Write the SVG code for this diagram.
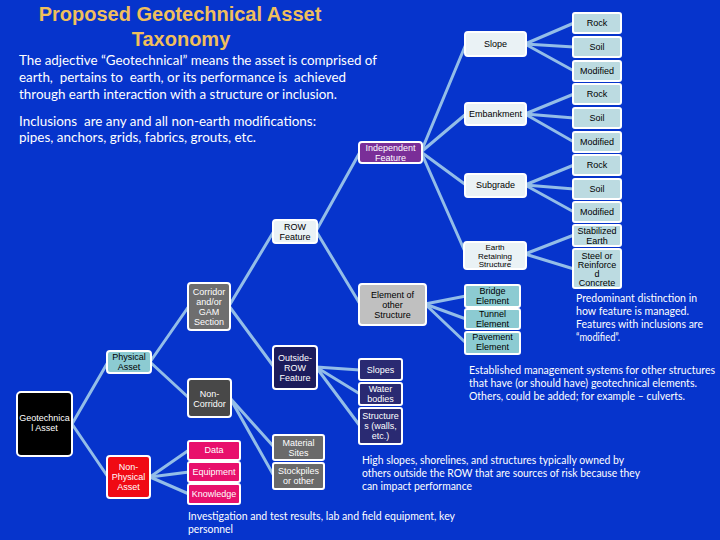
<svg xmlns="http://www.w3.org/2000/svg" width="720" height="540" viewBox="0 0 720 540">
<style>
.bg{fill:#0634cc}
.n rect{stroke:#ffffff;stroke-width:2}
.n text{font-family:"Liberation Sans",Arial,sans-serif;font-size:9px;text-anchor:middle}
.lt rect{fill:#bcdbe1}
.wh rect{fill:#eaf2f5}
.tl rect{fill:#8ccbd2}
.dk text,.pk text,.rd text,.pu text{fill:#ffffff}
.c line{stroke:#93bde8;stroke-width:3;stroke-linecap:round}
.t{font-family:"Lato","Open Sans",sans-serif;font-size:13px;fill:#ffffff}
.s{font-family:"Lato","Open Sans",sans-serif;font-size:10.5px;fill:#ffffff}
.title{font-family:"Liberation Sans",Arial,sans-serif;font-size:20px;font-weight:bold;fill:#f0bf5c;text-anchor:middle}
</style>
<rect class="bg" x="0" y="0" width="720" height="540"/>
<text class="title" x="180" y="21">Proposed Geotechnical Asset</text>
<text class="title" x="181" y="46">Taxonomy</text>
<text class="t" x="19" y="65" textLength="358" lengthAdjust="spacingAndGlyphs">The adjective “Geotechnical” means the asset is comprised of</text>
<text class="t" x="19" y="82" textLength="327" lengthAdjust="spacingAndGlyphs" xml:space="preserve">earth,  pertains to  earth, or its performance is  achieved</text>
<text class="t" x="19" y="99" textLength="318" lengthAdjust="spacingAndGlyphs">through earth interaction with a structure or inclusion.</text>
<text class="t" x="19" y="126" textLength="297" lengthAdjust="spacingAndGlyphs" xml:space="preserve">Inclusions  are any and all non-earth modifications:</text>
<text class="t" x="19" y="142" textLength="237" lengthAdjust="spacingAndGlyphs">pipes, anchors, grids, fabrics, grouts, etc.</text>
<g class="c" id="connectors">
<line x1="72" y1="424" x2="108" y2="362"/>
<line x1="72" y1="424" x2="108" y2="477"/>
<line x1="150" y1="362" x2="189" y2="306"/>
<line x1="150" y1="362" x2="189" y2="398"/>
<line x1="229" y1="306" x2="274" y2="231"/>
<line x1="229" y1="306" x2="274" y2="367"/>
<line x1="230" y1="398" x2="274" y2="447"/>
<line x1="230" y1="398" x2="274" y2="476"/>
<line x1="150" y1="477" x2="189" y2="450"/>
<line x1="150" y1="477" x2="189" y2="472"/>
<line x1="150" y1="477" x2="189" y2="494"/>
<line x1="316" y1="231" x2="360" y2="152"/>
<line x1="316" y1="231" x2="360" y2="304"/>
<line x1="421" y1="152" x2="466" y2="44"/>
<line x1="421" y1="152" x2="466" y2="114"/>
<line x1="421" y1="152" x2="466" y2="185"/>
<line x1="421" y1="152" x2="466" y2="254"/>
<line x1="525" y1="44" x2="574" y2="23"/>
<line x1="525" y1="44" x2="574" y2="47"/>
<line x1="525" y1="44" x2="574" y2="71"/>
<line x1="525" y1="114" x2="574" y2="94"/>
<line x1="525" y1="114" x2="574" y2="118"/>
<line x1="525" y1="114" x2="574" y2="142"/>
<line x1="525" y1="185" x2="574" y2="165"/>
<line x1="525" y1="185" x2="574" y2="189"/>
<line x1="525" y1="185" x2="574" y2="212"/>
<line x1="525" y1="254" x2="574" y2="235"/>
<line x1="525" y1="254" x2="574" y2="269"/>
<line x1="425" y1="304" x2="466" y2="296"/>
<line x1="425" y1="304" x2="466" y2="319"/>
<line x1="425" y1="304" x2="466" y2="343"/>
<line x1="316" y1="367" x2="360" y2="370"/>
<line x1="316" y1="367" x2="360" y2="394"/>
<line x1="316" y1="367" x2="360" y2="426"/>
</g>
<g class="n dk" id="geotechnical-asset"><rect x="17" y="392" width="55" height="64" rx="4" fill="#000000"/><text x="44.5" y="421">Geotechnica</text><text x="44.5" y="431">l Asset</text></g>
<g class="n tl" id="physical-asset"><rect x="107" y="351" width="44" height="22" rx="3"/><text x="129" y="360">Physical</text><text x="129" y="370">Asset</text></g>
<g class="n rd" id="non-physical-asset"><rect x="107" y="456" width="43" height="42" rx="3" fill="#f00a14"/><text x="128.5" y="470">Non-</text><text x="128.5" y="480">Physical</text><text x="128.5" y="490">Asset</text></g>
<g class="n dk" id="corridor"><rect x="188" y="283" width="42" height="47" rx="3" fill="#6e6e6e"/><text x="209" y="295">Corridor</text><text x="209" y="305">and/or</text><text x="209" y="315">GAM</text><text x="209" y="325">Section</text></g>
<g class="n dk" id="non-corridor"><rect x="188" y="379" width="43" height="38" rx="3" fill="#484848"/><text x="209.5" y="397">Non-</text><text x="209.5" y="407">Corridor</text></g>
<g class="n pk" id="data"><rect x="188" y="441" width="52" height="19" rx="2" fill="#e8106c"/><text x="214" y="453">Data</text></g>
<g class="n pk" id="equipment"><rect x="188" y="462" width="52" height="20" rx="2" fill="#e8106c"/><text x="214" y="475">Equipment</text></g>
<g class="n pk" id="knowledge"><rect x="188" y="484" width="52" height="20" rx="2" fill="#e8106c"/><text x="214" y="497">Knowledge</text></g>
<g class="n wh" id="row-feature"><rect x="273" y="220" width="44" height="23" rx="3"/><text x="295" y="230">ROW</text><text x="295" y="240">Feature</text></g>
<g class="n dk" id="outside-row"><rect x="273" y="346" width="44" height="43" rx="3" fill="#1c1c5c"/><text x="295" y="361">Outside-</text><text x="295" y="371">ROW</text><text x="295" y="381">Feature</text></g>
<g class="n dk" id="material-sites"><rect x="273" y="435" width="51" height="25" rx="2" fill="#6a6a6a"/><text x="298.5" y="446">Material</text><text x="298.5" y="456">Sites</text></g>
<g class="n dk" id="stockpiles"><rect x="273" y="463" width="51" height="26" rx="2" fill="#6a6a6a"/><text x="298.5" y="474">Stockpiles</text><text x="298.5" y="484">or other</text></g>
<g class="n pu" id="independent-feature"><rect x="359" y="142" width="63" height="21" rx="3" fill="#7a2e98"/><text x="390.5" y="151">Independent</text><text x="390.5" y="161">Feature</text></g>
<g class="n" id="element-other"><rect x="359" y="284" width="67" height="41" rx="3" fill="#c0c0c0"/><text x="392.5" y="298">Element of</text><text x="392.5" y="308">other</text><text x="392.5" y="318">Structure</text></g>
<g class="n dk" id="slopes"><rect x="359" y="359" width="43" height="21" rx="2" fill="#2a2a72"/><text x="380.5" y="373">Slopes</text></g>
<g class="n dk" id="water-bodies"><rect x="359" y="383" width="43" height="22" rx="2" fill="#2a2a72"/><text x="380.5" y="392">Water</text><text x="380.5" y="402">bodies</text></g>
<g class="n dk" id="structures"><rect x="359" y="408" width="43" height="36" rx="2" fill="#2a2a72"/><text x="380.5" y="419">Structure</text><text x="380.5" y="429">s (walls,</text><text x="380.5" y="439">etc.)</text></g>
<g class="n wh" id="slope"><rect x="465" y="32" width="61" height="24" rx="3"/><text x="495.5" y="47">Slope</text></g>
<g class="n wh" id="embankment"><rect x="465" y="103" width="61" height="22" rx="3"/><text x="495.5" y="117">Embankment</text></g>
<g class="n wh" id="subgrade"><rect x="465" y="174" width="61" height="23" rx="3"/><text x="495.5" y="188">Subgrade</text></g>
<g class="n wh" id="earth-retaining"><rect x="464" y="242" width="62" height="27" rx="3"/><text x="495" y="250" style="font-size:8px">Earth</text><text x="495" y="258.5" style="font-size:8px">Retaining</text><text x="495" y="267" style="font-size:8px">Structure</text></g>
<g class="n tl" id="bridge"><rect x="465" y="285" width="55" height="22" rx="2"/><text x="492.5" y="294">Bridge</text><text x="492.5" y="304">Element</text></g>
<g class="n tl" id="tunnel"><rect x="465" y="309" width="55" height="20" rx="2"/><text x="492.5" y="317">Tunnel</text><text x="492.5" y="327">Element</text></g>
<g class="n tl" id="pavement"><rect x="465" y="332" width="55" height="22" rx="2"/><text x="492.5" y="340">Pavement</text><text x="492.5" y="350">Element</text></g>
<g class="n lt" id="slope-rock"><rect x="573" y="13" width="48" height="20" rx="2"/><text x="597" y="26">Rock</text></g>
<g class="n lt" id="slope-soil"><rect x="573" y="37" width="48" height="20" rx="2"/><text x="597" y="50">Soil</text></g>
<g class="n lt" id="slope-modified"><rect x="573" y="61" width="48" height="20" rx="2"/><text x="597" y="74">Modified</text></g>
<g class="n lt" id="emb-rock"><rect x="573" y="84" width="48" height="20" rx="2"/><text x="597" y="97">Rock</text></g>
<g class="n lt" id="emb-soil"><rect x="573" y="108" width="48" height="20" rx="2"/><text x="597" y="121">Soil</text></g>
<g class="n lt" id="emb-modified"><rect x="573" y="132" width="48" height="20" rx="2"/><text x="597" y="145">Modified</text></g>
<g class="n lt" id="sub-rock"><rect x="573" y="155" width="48" height="20" rx="2"/><text x="597" y="168">Rock</text></g>
<g class="n lt" id="sub-soil"><rect x="573" y="179" width="48" height="20" rx="2"/><text x="597" y="192">Soil</text></g>
<g class="n lt" id="sub-modified"><rect x="573" y="202" width="48" height="20" rx="2"/><text x="597" y="215">Modified</text></g>
<g class="n lt" id="stabilized"><rect x="573" y="225" width="48" height="21" rx="2"/><text x="597" y="234">Stabilized</text><text x="597" y="244">Earth</text></g>
<g class="n lt" id="steel"><rect x="573" y="249" width="48" height="39" rx="2"/><text x="597" y="259">Steel or</text><text x="597" y="268">Reinforce</text><text x="597" y="277">d</text><text x="597" y="286">Concrete</text></g>
<text class="s" x="576" y="302" textLength="121" lengthAdjust="spacingAndGlyphs">Predominant distinction in</text>
<text class="s" x="576" y="315" textLength="113" lengthAdjust="spacingAndGlyphs">how feature is managed.</text>
<text class="s" x="576" y="328" textLength="127" lengthAdjust="spacingAndGlyphs">Features with inclusions are</text>
<text class="s" x="576" y="341" textLength="44" lengthAdjust="spacingAndGlyphs">“modified”.</text>
<text class="s" x="469" y="374" textLength="246" lengthAdjust="spacingAndGlyphs">Established management systems for other structures</text>
<text class="s" x="469" y="387" textLength="228" lengthAdjust="spacingAndGlyphs">that have (or should have) geotechnical elements.</text>
<text class="s" x="469" y="400" textLength="216" lengthAdjust="spacingAndGlyphs">Others, could be added; for example – culverts.</text>
<text class="s" x="362" y="464" textLength="262" lengthAdjust="spacingAndGlyphs">High slopes, shorelines, and structures typically owned by</text>
<text class="s" x="362" y="477" textLength="278" lengthAdjust="spacingAndGlyphs">others outside the ROW that are sources of risk because they</text>
<text class="s" x="362" y="490" textLength="110" lengthAdjust="spacingAndGlyphs">can impact performance</text>
<text class="s" x="188" y="520" textLength="267" lengthAdjust="spacingAndGlyphs">Investigation and test results, lab and field equipment, key</text>
<text class="s" x="188" y="533" textLength="45" lengthAdjust="spacingAndGlyphs">personnel</text>
</svg>
